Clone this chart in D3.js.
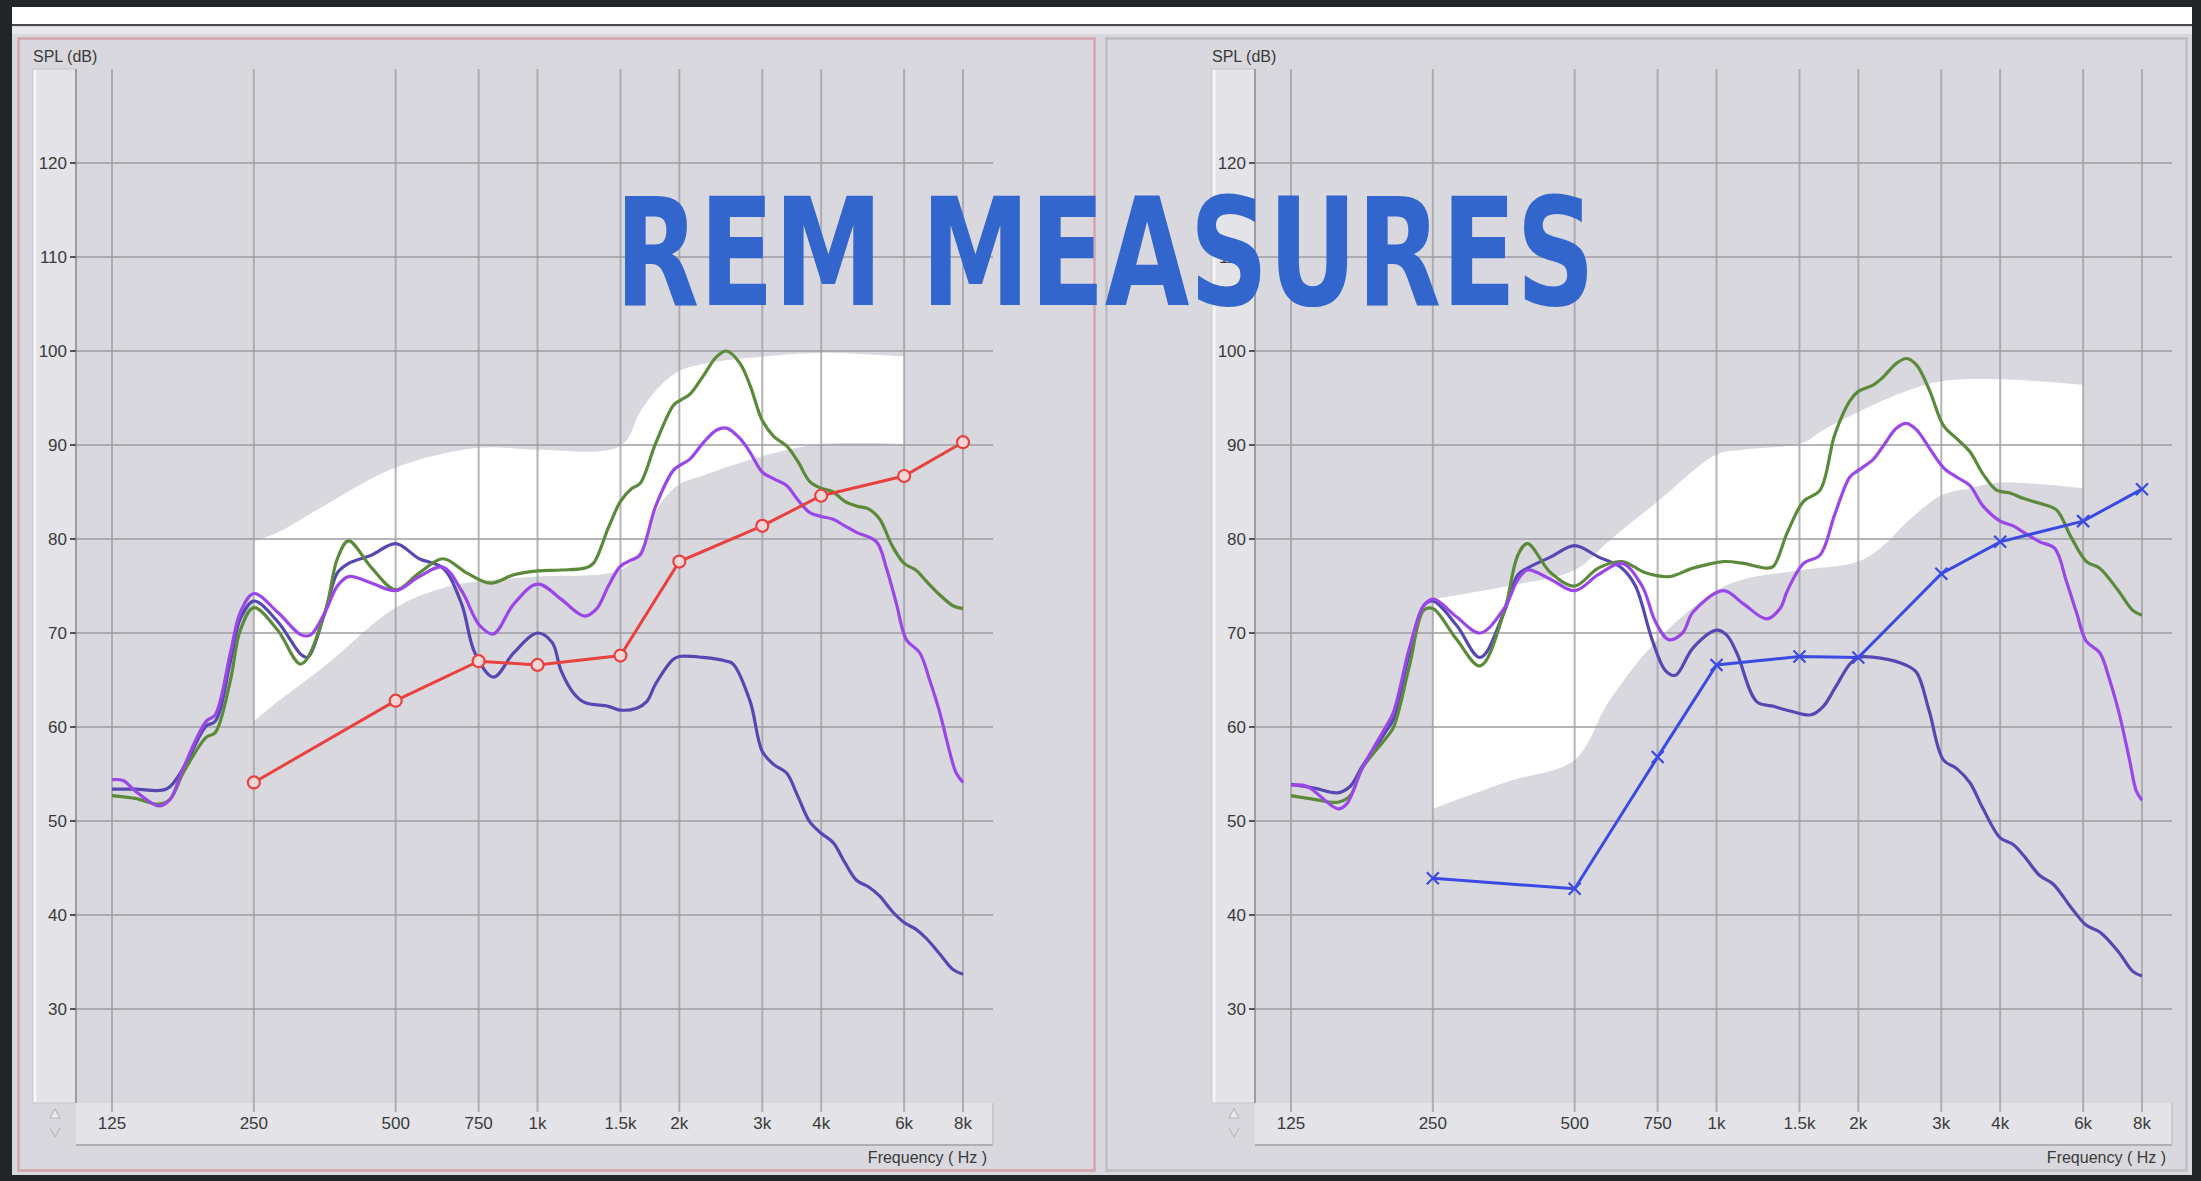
<!DOCTYPE html>
<html>
<head>
<meta charset="utf-8">
<script src="https://cdn.jsdelivr.net/npm/d3@7"></script>
<style>
  html, body { margin: 0; padding: 0; background: #222629; overflow: hidden; }
  svg { display: block; }
</style>
</head>
<body>
<script>
// Axis ticks
const freqTicks = [125, 250, 500, 750, 1000, 1500, 2000, 3000, 4000, 6000, 8000];
const freqLabels = ["125", "250", "500", "750", "1k", "1.5k", "2k", "3k", "4k", "6k", "8k"];
const dbTicks = [30, 40, 50, 60, 70, 80, 90, 100, 110, 120];

// Left chart: measured curves [Hz, dB SPL]
const leftGreen = [[125,52.7],[140,52.4],[157,51.8],[166,52.3],[177,55.1],[198,58.9],[207,59.4],[223,65],[234,70.3],[250,72.7],[281,70.3],[315,66.7],[354,72.2],[376,77.9],[397,79.8],[445,76.9],[500,74.6],[561,76.4],[630,77.9],[707,76.4],[794,75.3],[891,76.2],[1000,76.6],[1122,76.7],[1260,76.9],[1314,77.4],[1414,81.2],[1500,84],[1587,85.4],[1651,85.9],[1782,90.2],[1942,94.2],[2000,94.7],[2106,95.4],[2245,97.3],[2400,99.4],[2520,100],[2689,98.7],[2828,96.3],[3000,92.6],[3175,90.9],[3378,89.9],[3564,88.3],[3784,86.1],[4000,85.4],[4242,85],[4490,84],[4754,83.5],[5040,83.2],[5326,82.1],[5657,79.3],[6000,77.4],[6350,76.7],[6690,75.5],[7127,74.1],[7617,72.9],[8000,72.6]];
const leftViolet = [[125,54.4],[132,54.3],[140,53.2],[157,51.6],[166,52.3],[177,55.6],[198,60.6],[207,61.3],[223,67.9],[234,72.2],[250,74.2],[281,72.2],[315,69.8],[330,69.8],[354,72.2],[376,75],[397,76],[445,75.3],[500,74.5],[561,76],[630,77],[690,74.5],[754,70.8],[806,69.9],[891,73.1],[1000,75.2],[1122,73.6],[1212,72.2],[1260,71.8],[1336,72.6],[1414,75],[1500,77.1],[1587,77.8],[1651,78.3],[1782,83.5],[1942,87.3],[2000,87.8],[2106,88.5],[2245,90.2],[2400,91.6],[2520,91.8],[2689,90.7],[2828,89.2],[3000,87.1],[3175,86.4],[3378,85.7],[3564,84.2],[3784,82.8],[4000,82.4],[4242,82.1],[4490,81.4],[4754,80.7],[5241,79.7],[5503,76.9],[5779,73.1],[6065,69.3],[6474,67.9],[6796,65],[7127,61.7],[7492,57.4],[7739,55.1],[8000,54.1]];
const leftIndigo = [[125,53.4],[140,53.4],[163,53.4],[177,55.6],[198,60.1],[207,60.6],[223,67],[234,71.5],[250,73.4],[281,71.2],[315,67.7],[325,67.4],[354,72.2],[376,76.4],[397,77.4],[445,78.3],[500,79.5],[561,77.9],[630,76.9],[690,73.1],[736,67.9],[806,65.3],[891,67.9],[1000,70],[1074,69],[1122,66],[1193,63.6],[1260,62.6],[1414,62.2],[1500,61.8],[1624,62],[1705,62.7],[1782,64.6],[1942,67.2],[2000,67.5],[2245,67.4],[2520,67],[2602,66.7],[2828,62.7],[3000,57.4],[3175,56],[3378,55.1],[3564,52.7],[3784,49.9],[4000,48.7],[4242,47.7],[4490,45.6],[4754,43.7],[5040,43],[5326,42],[5657,40.4],[6000,39.2],[6350,38.5],[6690,37.5],[7127,35.9],[7617,34.2],[8000,33.7]];
const leftBandUpper = [[250,79.8],[281,80.7],[354,83.6],[500,87.6],[750,89.7],[1000,89.5],[1500,89.9],[1651,93.5],[1790,95.9],[1984,97.8],[2284,98.7],[3000,99.4],[4000,99.8],[6000,99.4]];
const leftBandLower = [[250,60.6],[281,62.7],[354,66.5],[500,72.7],[630,74.8],[750,75.5],[1000,76],[1500,76.7],[1651,78.8],[1790,83.1],[1984,85.7],[2284,86.9],[3000,88.8],[4000,90.1],[6000,90.1]];
const pointFreqs = [250, 500, 750, 1000, 1500, 2000, 3000, 4000, 6000, 8000];
const leftRed = [54.1, 62.8, 67, 66.6, 67.6, 77.6, 81.4, 84.6, 86.7, 90.3];

// Right chart
const rightGreen = [[125,52.7],[140,52.3],[157,52],[167,52.7],[177,55.6],[198,58.7],[206,59.9],[223,66.5],[239,72.4],[250,72.6],[281,69.3],[315,66.5],[354,72.2],[379,78.3],[397,79.5],[445,76.4],[500,75],[561,76.9],[630,77.6],[707,76.4],[794,76],[891,76.9],[1034,77.6],[1141,77.4],[1278,76.9],[1321,77.1],[1414,80.7],[1530,84],[1659,85.2],[1782,91.1],[1919,94.7],[2000,95.7],[2154,96.4],[2245,97.1],[2411,98.7],[2532,99.2],[2659,98.5],[2828,95.9],[3030,92.1],[3231,90.7],[3448,89.3],[3680,86.9],[3928,85.2],[4194,84.9],[4490,84.3],[4853,83.8],[5266,83.1],[5657,80.2],[6096,77.6],[6507,76.9],[7127,74.5],[7649,72.4],[8000,71.9]];
const rightViolet = [[125,53.8],[135,53.7],[157,51.3],[164,51.8],[177,55.6],[198,59.9],[206,61.5],[223,68.4],[239,72.9],[251,73.6],[281,71.7],[315,70],[354,72.6],[379,75.7],[397,76.7],[445,75.7],[500,74.5],[561,76.2],[630,77.4],[695,75],[742,71.2],[792,69.3],[847,70],[891,72.2],[1034,74.5],[1141,73.1],[1278,71.5],[1364,72.6],[1414,74.5],[1530,77.4],[1659,78.3],[1782,82.6],[1919,86.6],[2000,87.3],[2154,88.5],[2245,89.7],[2411,91.8],[2532,92.3],[2659,91.6],[2828,89.7],[3030,87.6],[3231,86.6],[3448,85.7],[3680,83.5],[4000,81.9],[4262,81.4],[4490,80.7],[4853,79.7],[5223,79],[5529,75.5],[5806,72.2],[6096,69.1],[6507,67.9],[6831,65],[7174,61.2],[7527,56.5],[7780,53.2],[8000,52.2]];
const rightIndigo = [[125,53.9],[140,53.5],[157,53],[167,53.7],[177,55.8],[198,59.4],[206,60.8],[223,67.9],[239,72.9],[250,73.4],[281,70.8],[315,67.4],[354,72.2],[379,76.2],[397,76.9],[445,78.1],[500,79.3],[561,78.1],[630,76.9],[673,75],[730,69.3],[779,66],[818,65.5],[891,68.4],[1000,70.3],[1050,69.8],[1104,67.9],[1217,62.7],[1321,62.2],[1433,61.7],[1587,61.3],[1686,62.2],[1782,64.1],[1919,66.7],[2000,67.4],[2245,67.3],[2520,66.6],[2659,65.8],[2828,61.7],[3030,56.5],[3231,55.6],[3448,54.1],[3680,51.3],[4000,48.2],[4262,47.5],[4490,46.3],[4853,44.2],[5180,43.3],[5657,40.8],[6096,38.9],[6507,38.2],[7127,36.1],[7649,34],[8000,33.5]];
const rightBandUpper = [[250,73.6],[361,75],[500,76.7],[591,79.8],[750,84],[1000,89],[1138,89.5],[1517,90.2],[1686,91.6],[2000,93.5],[2492,95.6],[3019,96.8],[4025,97],[6000,96.4]];
const rightBandLower = [[250,51.3],[361,54.2],[500,56.5],[591,62.7],[750,69.3],[1000,74.5],[1138,75.7],[1517,76.7],[2000,77.6],[2260,79.3],[2574,82.1],[3019,84.7],[3448,85.4],[4025,86],[6000,85.4]];
const rightBlue = [43.9, 42.8, 56.8, 66.6, 67.5, 67.4, 76.3, 79.7, 81.9, 85.3];

const W = 2201, H = 1181;
const svg = d3.select("body").append("svg").attr("width", W).attr("height", H);
const labelFont = "'Liberation Sans Narrow', 'Liberation Sans', sans-serif";

// Window chrome
svg.append("rect").attr("width", W).attr("height", H).attr("fill", "#222629");
svg.append("rect").attr("x", 12).attr("y", 7).attr("width", 2180).attr("height", 17).attr("fill", "#ffffff");
svg.append("rect").attr("x", 12).attr("y", 24).attr("width", 2180).attr("height", 1151).attr("fill", "#d9d8de");
svg.append("line").attr("x1", 12).attr("x2", 2192).attr("y1", 25).attr("y2", 25)
  .attr("stroke", "#4a4a4d").attr("stroke-width", 2);
svg.append("rect").attr("x", 12).attr("y", 27).attr("width", 2180).attr("height", 7).attr("fill", "#e8e8ec");

// Panel frames
svg.append("rect").attr("x", 18.5).attr("y", 38.5).attr("width", 1076).attr("height", 1132)
  .attr("fill", "none").attr("stroke", "#d4a5ac").attr("stroke-width", 2.5);
svg.append("rect").attr("x", 1106.5).attr("y", 38.5).attr("width", 1080).attr("height", 1132)
  .attr("fill", "none").attr("stroke", "#bdbcc2").attr("stroke-width", 2.5);

const y = d3.scaleLinear().domain([20, 130]).range([1103, 69]);

function drawChart(dx, curves, band, points, pointColor, marker) {
  const g = svg.append("g");
  const x = d3.scaleLog().base(2).domain([125, 8000]).range([112 + dx, 963 + dx]);
  const left = 76 + dx, right = 993 + dx;

  // y slider
  g.append("rect").attr("x", 33 + dx).attr("y", 69).attr("width", 43).attr("height", 1034)
    .attr("fill", "#e4e4e8").attr("stroke", "#c4c4c9").attr("stroke-width", 1);
  g.append("line").attr("x1", 35 + dx).attr("x2", 35 + dx).attr("y1", 70).attr("y2", 1102)
    .attr("stroke", "#f5f5f7").attr("stroke-width", 3);

  // x axis bar
  g.append("rect").attr("x", left).attr("y", 1103).attr("width", right - left).attr("height", 42)
    .attr("fill", "#e4e4e8");
  g.append("line").attr("x1", left).attr("x2", right).attr("y1", 1145).attr("y2", 1145)
    .attr("stroke", "#aeaeb3").attr("stroke-width", 2);
  g.append("line").attr("x1", right).attr("x2", right).attr("y1", 1103).attr("y2", 1145)
    .attr("stroke", "#c2c2c7").attr("stroke-width", 1.5);

  // target band
  const bandLine = d3.line().x(d => x(d[0])).y(d => y(d[1])).curve(d3.curveCatmullRom.alpha(0.5));
  const up = bandLine(band.upper);
  const low = bandLine(band.lower.slice().reverse());
  g.append("path").attr("d", up + "L" + low.slice(1) + "Z").attr("fill", "#ffffff");

  // grid
  g.selectAll(".hgrid").data(dbTicks).join("line")
    .attr("x1", left).attr("x2", right)
    .attr("y1", d => y(d)).attr("y2", d => y(d))
    .attr("stroke", "#9c9ca2").attr("stroke-opacity", 0.75).attr("stroke-width", 2);
  g.selectAll(".vgrid").data(freqTicks).join("line")
    .attr("x1", d => x(d)).attr("x2", d => x(d))
    .attr("y1", 69).attr("y2", 1112)
    .attr("stroke", "#9c9ca2").attr("stroke-opacity", 0.75).attr("stroke-width", 2);
  g.append("line").attr("x1", left).attr("x2", left).attr("y1", 69).attr("y2", 1103)
    .attr("stroke", "#9c9ca2").attr("stroke-width", 2);

  // y ticks and labels
  g.selectAll(".ytick").data(dbTicks).join("line")
    .attr("x1", left - 6).attr("x2", left).attr("y1", d => y(d)).attr("y2", d => y(d))
    .attr("stroke", "#555").attr("stroke-width", 2);
  g.selectAll(".ylab").data(dbTicks).join("text")
    .attr("x", left - 9).attr("y", d => y(d) + 6)
    .attr("text-anchor", "end").attr("font-family", labelFont).attr("font-size", 17)
    .attr("fill", "#3a3a3a").text(d => d);

  // x labels
  g.selectAll(".xlab").data(freqTicks).join("text")
    .attr("x", d => x(d)).attr("y", 1129)
    .attr("text-anchor", "middle").attr("font-family", labelFont).attr("font-size", 17)
    .attr("fill", "#3a3a3a").text((d, i) => freqLabels[i]);

  g.append("text").attr("x", 33 + dx).attr("y", 62).attr("font-family", labelFont)
    .attr("font-size", 16).attr("fill", "#3a3a3a").text("SPL (dB)");
  g.append("text").attr("x", right - 6).attr("y", 1163).attr("text-anchor", "end")
    .attr("font-family", labelFont).attr("font-size", 16).attr("fill", "#3a3a3a").text("Frequency ( Hz )");

  // scroll arrows
  g.append("path").attr("d", `M${50 + dx},${1118} L${55 + dx},${1109} L${60 + dx},${1118} Z`)
    .attr("fill", "#ececef").attr("stroke", "#b8b8bd").attr("stroke-width", 1.2);
  g.append("path").attr("d", `M${50 + dx},${1128} L${55 + dx},${1137} L${60 + dx},${1128}`)
    .attr("fill", "none").attr("stroke", "#b8b8bd").attr("stroke-width", 1.2);

  // measured curves
  const curveLine = d3.line().x(d => x(d[0])).y(d => y(d[1])).curve(d3.curveCatmullRom.alpha(0.5));
  curves.forEach(c => {
    g.append("path").attr("d", curveLine(c.data)).attr("fill", "none")
      .attr("stroke", c.color).attr("stroke-width", 3.2).attr("stroke-linejoin", "round");
  });

  // point series
  const pts = pointFreqs.map((f, i) => [f, points[i]]);
  g.append("path").attr("d", d3.line().x(d => x(d[0])).y(d => y(d[1]))(pts))
    .attr("fill", "none").attr("stroke", pointColor).attr("stroke-width", 3);
  if (marker === "circle") {
    g.selectAll(".pt").data(pts).join("circle")
      .attr("cx", d => x(d[0])).attr("cy", d => y(d[1])).attr("r", 6)
      .attr("fill", "#f1d6d8").attr("stroke", pointColor).attr("stroke-width", 2.2);
  } else {
    g.selectAll(".pt").data(pts).join("path")
      .attr("transform", d => `translate(${x(d[0])},${y(d[1])})`)
      .attr("d", "M-6,-6L6,6M-6,6L6,-6")
      .attr("stroke", pointColor).attr("stroke-width", 2.2);
  }
}

drawChart(0, [
  { data: leftIndigo, color: "#5648b2" },
  { data: leftGreen, color: "#5b8a3a" },
  { data: leftViolet, color: "#9b47e8" }
], { upper: leftBandUpper, lower: leftBandLower }, leftRed, "#e8423f", "circle");

drawChart(1179, [
  { data: rightIndigo, color: "#5648b2" },
  { data: rightGreen, color: "#5b8a3a" },
  { data: rightViolet, color: "#9b47e8" }
], { upper: rightBandUpper, lower: rightBandLower }, rightBlue, "#3b4ae2", "x");

// Title overlay
svg.append("text")
  .attr("x", 1105).attr("y", 305)
  .attr("text-anchor", "middle")
  .attr("font-family", "'Liberation Sans Narrow', 'DejaVu Sans Condensed', sans-serif")
  .attr("font-weight", "bold").attr("font-size", 150)
  .attr("textLength", 980).attr("lengthAdjust", "spacingAndGlyphs")
  .attr("fill", "#3366cc")
  .text("REM MEASURES");
</script>
</body>
</html>
